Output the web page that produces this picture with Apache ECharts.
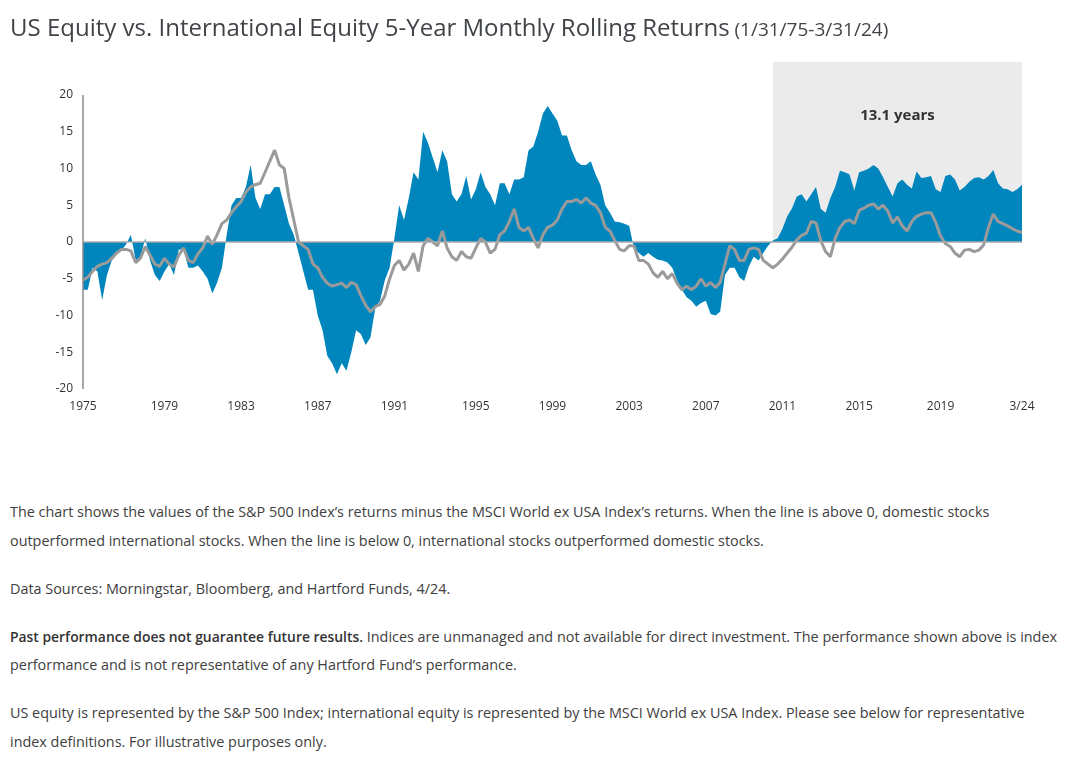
<!DOCTYPE html>
<html>
<head>
<meta charset="utf-8">
<title>US Equity vs. International Equity</title>
<style>
  html, body { margin: 0; padding: 0; width: 1065px; height: 769px; background: #fff; overflow: hidden; }
  #main { position: absolute; left: 0; top: 0; width: 1065px; height: 470px; }
  #notes { position: absolute; left: 10px; top: 498px; font-family: 'Open Sans', sans-serif; font-size: 14.4px;
           line-height: 28.5px; color: #404040; white-space: nowrap; }
  #notes p { margin: 0 0 19.5px 0; }
  #notes b { font-weight: 600; font-size: 13.9px; color: #333; }
</style>
</head>
<body>
<div id="main"></div>
<div id="notes">
  <p>The chart shows the values of the S&amp;P 500 Index’s returns minus the MSCI World ex USA Index’s returns. When the line is above 0, domestic stocks<br>outperformed international stocks. When the line is below 0, international stocks outperformed domestic stocks.</p>
  <p>Data Sources: Morningstar, Bloomberg, and Hartford Funds, 4/24.</p>
  <p><b>Past performance does not guarantee future results.</b> Indices are unmanaged and not available for direct investment. The performance shown above is index<br>performance and is not representative of any Hartford Fund’s performance.</p>
  <p>US equity is represented by the S&amp;P 500 Index; international equity is represented by the MSCI World ex USA Index. Please see below for representative<br>index definitions. For illustrative purposes only.</p>
</div>
<script src="https://cdn.jsdelivr.net/npm/echarts@6/dist/echarts.min.js"></script>
<script>
// quarterly samples, 1975 Q1 .. 2024 Q1
var startYear = 1975;
var spreadArea = [
  -6.5, -6.5, -3.5, -4, -7.9, -4.5, -2.5, -1.7, -1.2, -0.3, 1, -2.5, -2, 0.5, -2.5, -4.5, -5.3, -4, -3, -4.5, -1, -1, -3.5, -3.5, -3.2, -4, -5, -7, -5.5, -3.5, 1, 5, 6,
  6, 7.5, 10.5, 6, 4.5, 6.5, 6.5, 7.5, 7.5, 5, 2.5, 1, -1.5, -4, -6.5, -6.5, -10, -12, -15.5, -16.5, -18, -16.5, -17.5, -15, -12, -12.5, -14, -13, -9, -8, -5.2, -3.5, 0.5, 5,
  3, 6, 9.5, 8.5, 15, 13.5, 11.5, 9.5, 12.5, 11, 6.5, 5.5, 6.5, 9, 5.8, 7.2, 9.5, 7.5, 6.5, 5, 8, 8, 6.5, 8.5, 8.5, 8.8, 12.5, 13, 15, 17.5, 18.5, 17.5, 16.5,
  14.5, 14.5, 12.5, 11, 10.5, 10.5, 11, 9.2, 7.8, 5, 4, 2.8, 2.7, 2.5, 2.2, -0.8, -1.5, -2, -1.5, -2, -2.4, -2.5, -2.8, -3.5, -5.2, -6.5, -7.5, -8, -8.8, -8.3, -8, -9.8, -10,
  -9.5, -4.5, -3.5, -3.5, -4.8, -5.3, -3.3, -2, -2.5, -1.5, -0.5, 0.2, 0.5, 1.8, 3.5, 4.6, 6.2, 6.5, 5.5, 6.5, 7.5, 4.5, 4, 6, 7.5, 9.7, 9.5, 9.2, 7, 9.5, 9.7, 10, 10.5, 10,
  8.8, 7.5, 6.2, 8, 8.5, 7.8, 7.3, 9.6, 8.7, 8.8, 9, 7.2, 6.8, 9, 9.2, 8.5, 7, 7.5, 8.2, 8.7, 8.8, 8.5, 9, 9.8, 8, 7.3, 7.2, 6.8, 7.2, 7.8
];
var spreadLine = [
  -5.2, -4.8, -4, -3.3, -3, -2.8, -2.2, -1.5, -1, -1, -1.2, -2.8, -2.2, -0.6, -1.8, -3, -3.3, -2.2, -3, -3.4, -1.8, -0.8, -2.5, -2.8, -1.6, -0.8, 0.8, -0.3, 1, 2.5, 3, 4, 4.8,
  5.5, 6.8, 7.5, 7.8, 8, 9.5, 11, 12.5, 10.5, 10, 6, 3, 0, -0.5, -1, -3, -3.5, -4.8, -5.6, -6, -5.8, -5.6, -6.2, -5.5, -5.8, -7.3, -8.6, -9.5, -8.8, -8.5, -7.3, -5, -3.2, -2.5,
  -3.8, -3, -1.5, -4, -0.5, 0.5, 0, -0.5, 1.5, -0.8, -2, -2.5, -1.3, -2, -2.2, -0.8, 0.5, 0, -1.5, -1, 1, 1.5, 2.8, 4.5, 2, 1.5, 2, 0.5, -0.8, 1, 2, 2.3, 3,
  4.5, 5.5, 5.5, 5.8, 5.3, 6, 5.3, 5, 4, 2, 1.5, 0.2, -1, -1.2, -0.5, -0.5, -2.5, -2.5, -3, -4.2, -4.8, -4, -5, -4.3, -5.6, -6.5, -6, -6.5, -6, -5, -6, -5.5, -6.2,
  -5.5, -3, -0.5, -1, -2.5, -2.5, -1, -0.8, -1, -2.5, -3, -3.5, -3, -2.3, -1.5, -0.7, 0.3, 0.9, 1.2, 2.8, 2.6, 0.2, -1.3, -2, 0.5, 2, 2.8, 3, 2.5, 4.3, 4.6, 5, 5.2, 4.5,
  5, 4.2, 2.6, 3.4, 2.2, 1.5, 2.8, 3.5, 3.8, 4, 4, 2.7, 0.8, -0.2, -0.6, -1.5, -2, -1.1, -1, -1.3, -1.1, -0.4, 2, 3.8, 2.8, 2.5, 2.2, 1.8, 1.5, 1.3
];
var tickText = ['1975', '1979', '1983', '1987', '1991', '1995', '1999', '2003', '2007', '2011', '2015', '2019', '3/24'];
var tickIdx = [0, 17, 33, 49, 65, 82, 98, 114, 130, 146, 162, 179, 196];
var streakStart = 144;   // start of the 13.1-year streak
var streakLabel = '13.1 years';

var cats = [];
for (var i = 0; i < spreadArea.length; i++) {
  cats.push((startYear + Math.floor(i / 4)) + ' Q' + (i % 4 + 1));
}
var last = cats.length - 1;

var font = "'Open Sans', sans-serif";
var myChart = echarts.init(document.getElementById('main'));
var option = {
  animation: false,
  textStyle: { fontFamily: font },
  title: {
    left: 5,
    top: 12,
    text: '{a|US Equity vs. International Equity 5-Year Monthly Rolling Returns} {b|(1/31/75-3/31/24)}',
    textStyle: {
      fontWeight: 'normal',
      rich: {
        a: { fontSize: 24, color: '#404448', fontFamily: font, fontWeight: 'normal' },
        b: { fontSize: 19, color: '#404448', fontFamily: font, fontWeight: 'normal', padding: [3, 0, 0, 0] }
      }
    }
  },
  grid: { left: 83, right: 43, top: 62, bottom: 81 },
  xAxis: {
    type: 'category',
    data: cats,
    boundaryGap: false,
    axisLine: { show: false },
    axisTick: { show: false },
    axisLabel: {
      margin: 12,
      color: '#333',
      fontSize: 12,
      interval: function (index) { return tickIdx.indexOf(index) >= 0; },
      formatter: function (value, index) { return tickText[tickIdx.indexOf(index)]; }
    },
    splitLine: { show: false }
  },
  yAxis: {
    type: 'value',
    min: -20,
    max: 24.5,
    interval: 5,
    axisLine: { show: false },
    axisTick: { show: false },
    splitLine: { show: false },
    axisLabel: {
      margin: 10,
      color: '#333',
      fontSize: 12,
      formatter: function (v) { return v > 20 ? '' : String(v); }
    }
  },
  series: [{
    type: 'line',
    data: [],
    z: 1,
    markArea: {
      silent: true,
      itemStyle: { color: '#ebebeb' },
      label: {
        show: true,
        position: 'insideTop',
        distance: 46,
        color: '#333',
        fontSize: 15,
        fontWeight: 'bold',
        fontFamily: font,
        formatter: streakLabel
      },
      data: [[{ xAxis: cats[streakStart], yAxis: 0 }, { xAxis: cats[last], yAxis: 24.5 }]]
    }
  }, {
    type: 'line',
    data: spreadArea,
    z: 2,
    showSymbol: false,
    lineStyle: { width: 0 },
    itemStyle: { color: '#0086bd' },
    areaStyle: { color: '#0086bd', opacity: 1 }
  }, {
    type: 'line',
    data: spreadLine,
    z: 3,
    showSymbol: false,
    lineStyle: { width: 3, color: '#9a9a9a' },
    itemStyle: { color: '#9a9a9a' },
    markLine: {
      silent: true,
      symbol: 'none',
      label: { show: false },
      lineStyle: { type: 'solid', color: '#aaaaaa', width: 1.5 },
      data: [
        { yAxis: 0 },
        [{ coord: [cats[0], -20] }, { coord: [cats[0], 20], lineStyle: { color: '#8a8a8a', width: 1.5 } }]
      ]
    }
  }]
};
myChart.setOption(option);
</script>
</body>
</html>
